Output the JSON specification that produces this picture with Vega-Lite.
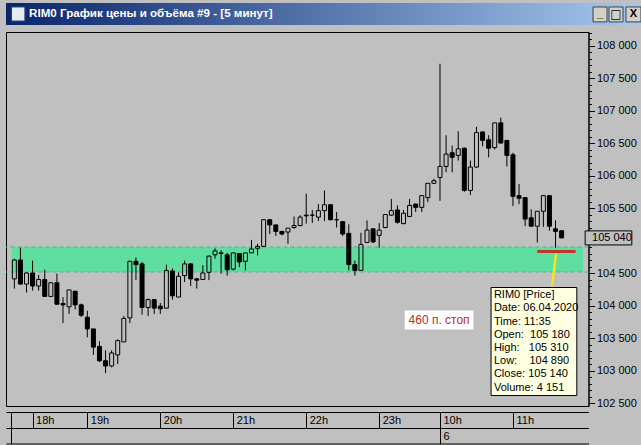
{
  "$schema": "https://vega.github.io/schema/vega-lite/v6.json",
  "background": "#C0C0C0",
  "padding": {"left": 0, "top": 3, "right": 0, "bottom": 2},
  "spacing": 6,
  "config": {"view": {"stroke": null}, "font": "Liberation Sans", "text": {"font": "Liberation Sans"}},
  "datasets": {
    "candles": [
      {"time": "17:45", "i": 0, "open": 104410, "high": 104720, "low": 104260, "close": 104700},
      {"time": "17:50", "i": 1, "open": 104700, "high": 104890, "low": 104320, "close": 104330},
      {"time": "17:55", "i": 2, "open": 104330, "high": 104510, "low": 104200, "close": 104500},
      {"time": "18:00", "i": 3, "open": 104500, "high": 104690, "low": 104230, "close": 104300},
      {"time": "18:05", "i": 4, "open": 104300, "high": 104470, "low": 104230, "close": 104400},
      {"time": "18:10", "i": 5, "open": 104400, "high": 104550, "low": 104140, "close": 104140},
      {"time": "18:15", "i": 6, "open": 104140, "high": 104360, "low": 104130, "close": 104350},
      {"time": "18:20", "i": 7, "open": 104350, "high": 104490, "low": 104010, "close": 104020},
      {"time": "18:25", "i": 8, "open": 104030, "high": 104130, "low": 103730, "close": 104010},
      {"time": "18:30", "i": 9, "open": 103980, "high": 104240, "low": 103870, "close": 104240},
      {"time": "18:35", "i": 10, "open": 104220, "high": 104220, "low": 103940, "close": 104010},
      {"time": "18:40", "i": 11, "open": 104010, "high": 104030, "low": 103820, "close": 103850},
      {"time": "19:00", "i": 12, "open": 103820, "high": 103920, "low": 103510, "close": 103640},
      {"time": "19:05", "i": 13, "open": 103640, "high": 103640, "low": 103240, "close": 103360},
      {"time": "19:10", "i": 14, "open": 103370, "high": 103450, "low": 103130, "close": 103150},
      {"time": "19:15", "i": 15, "open": 103150, "high": 103310, "low": 102960, "close": 103070},
      {"time": "19:20", "i": 16, "open": 103070, "high": 103310, "low": 103050, "close": 103270},
      {"time": "19:25", "i": 17, "open": 103240, "high": 103480, "low": 103100, "close": 103460},
      {"time": "19:30", "i": 18, "open": 103440, "high": 103840, "low": 103440, "close": 103800},
      {"time": "19:35", "i": 19, "open": 103810, "high": 104690, "low": 103730, "close": 104680},
      {"time": "19:40", "i": 20, "open": 104680, "high": 104740, "low": 104390, "close": 104630},
      {"time": "19:45", "i": 21, "open": 104640, "high": 104670, "low": 103860, "close": 103970},
      {"time": "19:50", "i": 22, "open": 103970, "high": 104110, "low": 103840, "close": 104090},
      {"time": "19:55", "i": 23, "open": 104090, "high": 104090, "low": 103870, "close": 103960},
      {"time": "20:00", "i": 24, "open": 103990, "high": 104040, "low": 103870, "close": 103950},
      {"time": "20:05", "i": 25, "open": 103960, "high": 104630, "low": 103960, "close": 104540},
      {"time": "20:10", "i": 26, "open": 104530, "high": 104570, "low": 104090, "close": 104150},
      {"time": "20:15", "i": 27, "open": 104130, "high": 104510, "low": 104130, "close": 104450},
      {"time": "20:20", "i": 28, "open": 104460, "high": 104690, "low": 104360, "close": 104640},
      {"time": "20:25", "i": 29, "open": 104640, "high": 104650, "low": 104300, "close": 104410},
      {"time": "20:30", "i": 30, "open": 104410, "high": 104420, "low": 104260, "close": 104390},
      {"time": "20:35", "i": 31, "open": 104400, "high": 104620, "low": 104400, "close": 104500},
      {"time": "20:40", "i": 32, "open": 104510, "high": 104770, "low": 104390, "close": 104760},
      {"time": "20:45", "i": 33, "open": 104780, "high": 104880, "low": 104720, "close": 104840},
      {"time": "20:50", "i": 34, "open": 104810, "high": 104850, "low": 104490, "close": 104800},
      {"time": "20:55", "i": 35, "open": 104780, "high": 104810, "low": 104460, "close": 104550},
      {"time": "21:00", "i": 36, "open": 104560, "high": 104820, "low": 104540, "close": 104810},
      {"time": "21:05", "i": 37, "open": 104800, "high": 104800, "low": 104590, "close": 104670},
      {"time": "21:10", "i": 38, "open": 104680, "high": 104810, "low": 104540, "close": 104810},
      {"time": "21:15", "i": 39, "open": 104810, "high": 105010, "low": 104810, "close": 104870},
      {"time": "21:20", "i": 40, "open": 104880, "high": 104950, "low": 104770, "close": 104910},
      {"time": "21:25", "i": 41, "open": 104910, "high": 105320, "low": 104900, "close": 105320},
      {"time": "21:30", "i": 42, "open": 105320, "high": 105320, "low": 105100, "close": 105240},
      {"time": "21:35", "i": 43, "open": 105240, "high": 105240, "low": 105070, "close": 105140},
      {"time": "21:40", "i": 44, "open": 105140, "high": 105140, "low": 105080, "close": 105100},
      {"time": "21:45", "i": 45, "open": 105130, "high": 105190, "low": 104950, "close": 105190},
      {"time": "21:50", "i": 46, "open": 105200, "high": 105370, "low": 105180, "close": 105230},
      {"time": "21:55", "i": 47, "open": 105230, "high": 105390, "low": 105220, "close": 105360},
      {"time": "22:00", "i": 48, "open": 105390, "high": 105720, "low": 105260, "close": 105380},
      {"time": "22:05", "i": 49, "open": 105390, "high": 105470, "low": 105270, "close": 105390},
      {"time": "22:10", "i": 50, "open": 105360, "high": 105560, "low": 105300, "close": 105460},
      {"time": "22:15", "i": 51, "open": 105460, "high": 105770, "low": 105300, "close": 105550},
      {"time": "22:20", "i": 52, "open": 105550, "high": 105560, "low": 105310, "close": 105320},
      {"time": "22:25", "i": 53, "open": 105320, "high": 105440, "low": 105200, "close": 105320},
      {"time": "22:30", "i": 54, "open": 105290, "high": 105300, "low": 105070, "close": 105100},
      {"time": "22:35", "i": 55, "open": 105110, "high": 105250, "low": 104540, "close": 104630},
      {"time": "22:40", "i": 56, "open": 104630, "high": 104690, "low": 104460, "close": 104540},
      {"time": "22:45", "i": 57, "open": 104540, "high": 105120, "low": 104540, "close": 104940},
      {"time": "22:50", "i": 58, "open": 104970, "high": 105310, "low": 104970, "close": 105160},
      {"time": "22:55", "i": 59, "open": 105180, "high": 105180, "low": 104960, "close": 104980},
      {"time": "23:00", "i": 60, "open": 105080, "high": 105270, "low": 104890, "close": 105160},
      {"time": "23:05", "i": 61, "open": 105200, "high": 105400, "low": 105190, "close": 105400},
      {"time": "23:10", "i": 62, "open": 105390, "high": 105640, "low": 105380, "close": 105460},
      {"time": "23:15", "i": 63, "open": 105470, "high": 105540, "low": 105260, "close": 105280},
      {"time": "23:20", "i": 64, "open": 105260, "high": 105470, "low": 105250, "close": 105420},
      {"time": "23:25", "i": 65, "open": 105370, "high": 105640, "low": 105370, "close": 105540},
      {"time": "23:30", "i": 66, "open": 105560, "high": 105570, "low": 105440, "close": 105510},
      {"time": "23:35", "i": 67, "open": 105510, "high": 105690, "low": 105440, "close": 105690},
      {"time": "23:40", "i": 68, "open": 105660, "high": 105880, "low": 105590, "close": 105880},
      {"time": "23:45", "i": 69, "open": 105880, "high": 105950, "low": 105870, "close": 105920},
      {"time": "10:00", "i": 70, "open": 105970, "high": 107720, "low": 105610, "close": 106140},
      {"time": "10:05", "i": 71, "open": 106140, "high": 106620, "low": 106050, "close": 106330},
      {"time": "10:10", "i": 72, "open": 106350, "high": 106460, "low": 106050, "close": 106280},
      {"time": "10:15", "i": 73, "open": 106310, "high": 106680, "low": 106230, "close": 106410},
      {"time": "10:20", "i": 74, "open": 106420, "high": 106430, "low": 105750, "close": 105770},
      {"time": "10:25", "i": 75, "open": 105770, "high": 106230, "low": 105700, "close": 106130},
      {"time": "10:30", "i": 76, "open": 106130, "high": 106750, "low": 106120, "close": 106660},
      {"time": "10:35", "i": 77, "open": 106670, "high": 106680, "low": 106450, "close": 106540},
      {"time": "10:40", "i": 78, "open": 106550, "high": 106620, "low": 106280, "close": 106420},
      {"time": "10:45", "i": 79, "open": 106430, "high": 106810, "low": 106400, "close": 106810},
      {"time": "10:50", "i": 80, "open": 106810, "high": 106890, "low": 106490, "close": 106500},
      {"time": "10:55", "i": 81, "open": 106540, "high": 106540, "low": 106140, "close": 106310},
      {"time": "11:00", "i": 82, "open": 106320, "high": 106350, "low": 105530, "close": 105680},
      {"time": "11:05", "i": 83, "open": 105690, "high": 105870, "low": 105560, "close": 105650},
      {"time": "11:10", "i": 84, "open": 105660, "high": 105660, "low": 105220, "close": 105330},
      {"time": "11:15", "i": 85, "open": 105350, "high": 105480, "low": 105220, "close": 105220},
      {"time": "11:20", "i": 86, "open": 105220, "high": 105450, "low": 104970, "close": 105450},
      {"time": "11:25", "i": 87, "open": 105450, "high": 105700, "low": 105210, "close": 105690},
      {"time": "11:30", "i": 88, "open": 105690, "high": 105690, "low": 105150, "close": 105220},
      {"time": "11:35", "i": 89, "open": 105180, "high": 105310, "low": 104890, "close": 105140},
      {"time": "11:40", "i": 90, "open": 105150, "high": 105150, "low": 105040, "close": 105040}
    ]
  },
  "vconcat": [
    {
      "width": 641,
      "height": 22,
      "view": {"stroke": null},
      "data": {"values": [{"title": "RIM0 График цены и объёма #9 - [5 минут]"}]},
      "layer": [
        {
          "mark": {"type": "rect", "stroke": null, "fill": {"gradient": "linear", "x1": 0, "y1": 0, "x2": 1, "y2": 0, "stops": [{"offset": 0, "color": "#0A246A"}, {"offset": 1, "color": "#A6CAF0"}]}},
          "encoding": {
            "x": {"datum": 0, "type": "quantitative", "scale": {"domain": [0, 1], "nice": false, "zero": false}, "axis": null},
            "x2": {"datum": 1},
            "y": {"datum": 0, "type": "quantitative", "scale": {"domain": [0, 1], "nice": false, "zero": false}, "axis": null},
            "y2": {"datum": 1}
          }
        },
        {
          "mark": {"type": "rect", "fill": "#E4ECF4", "stroke": "#2A3A7A", "strokeWidth": 1},
          "encoding": {
            "x": {"datum": 0.0085, "type": "quantitative"}, "x2": {"datum": 0.0295},
            "y": {"datum": 0.18, "type": "quantitative"}, "y2": {"datum": 0.82}
          }
        },
        {
          "mark": {"type": "text", "align": "left", "baseline": "middle", "fill": "white", "fontWeight": "bold", "fontSize": 11.6, "font": "Liberation Sans"},
          "encoding": {
            "x": {"datum": 0.036, "type": "quantitative"},
            "y": {"datum": 0.48, "type": "quantitative"},
            "text": {"field": "title"}
          }
        },
        {
          "mark": {"type": "rect", "fill": "#D4D0C8", "stroke": "#404040", "strokeWidth": 1},
          "encoding": {"x": {"datum": 0.9158, "type": "quantitative"}, "x2": {"datum": 0.9376}, "y": {"datum": 0.14, "type": "quantitative"}, "y2": {"datum": 0.82}}
        },
        {
          "mark": {"type": "rect", "fill": "#D4D0C8", "stroke": "#404040", "strokeWidth": 1},
          "encoding": {"x": {"datum": 0.9407, "type": "quantitative"}, "x2": {"datum": 0.9626}, "y": {"datum": 0.14, "type": "quantitative"}, "y2": {"datum": 0.82}}
        },
        {
          "mark": {"type": "rect", "fill": "#D4D0C8", "stroke": "#404040", "strokeWidth": 1},
          "encoding": {"x": {"datum": 0.9672, "type": "quantitative"}, "x2": {"datum": 0.9906}, "y": {"datum": 0.14, "type": "quantitative"}, "y2": {"datum": 0.82}}
        },
        {
          "data": {"values": [{"glyph": "_"}]},
          "mark": {"type": "text", "align": "center", "baseline": "middle", "fill": "black", "fontWeight": "bold", "fontSize": 11},
          "encoding": {"x": {"datum": 0.9267, "type": "quantitative"}, "y": {"datum": 0.5, "type": "quantitative"}, "text": {"field": "glyph"}}
        },
        {
          "data": {"values": [{"glyph": "□"}]},
          "mark": {"type": "text", "align": "center", "baseline": "middle", "fill": "black", "fontWeight": "bold", "fontSize": 12, "font": "DejaVu Sans"},
          "encoding": {"x": {"datum": 0.9516, "type": "quantitative"}, "y": {"datum": 0.48, "type": "quantitative"}, "text": {"field": "glyph"}}
        },
        {
          "data": {"values": [{"glyph": "X"}]},
          "mark": {"type": "text", "align": "center", "baseline": "middle", "fill": "black", "fontWeight": "bold", "fontSize": 11},
          "encoding": {"x": {"datum": 0.9789, "type": "quantitative"}, "y": {"datum": 0.48, "type": "quantitative"}, "text": {"field": "glyph"}}
        }
      ]
    },
    {
      "width": 582.5,
      "height": 374,
      "view": {"stroke": "black", "strokeWidth": 1},
      "resolve": {"axis": {"x": "independent", "y": "independent"}},
      "layer": [
        {
          "data": {"values": [{"from": 104515, "to": 104900}]},
          "mark": {"type": "rect", "fill": "#5EDFA0", "stroke": null},
          "encoding": {
            "x": {"datum": -0.47, "type": "quantitative", "scale": {"domain": [-0.55, 93.6], "nice": false, "zero": false}, "axis": null},
            "x2": {"datum": 93.52},
            "y": {"field": "to", "type": "quantitative", "scale": {"domain": [102454, 108208], "nice": false, "zero": false}, "axis": null},
            "y2": {"field": "from"}
          }
        },
        {
          "data": {"values": [{"level": 104515}, {"level": 104900}]},
          "mark": {"type": "rule", "stroke": "#3DBE80", "strokeDash": [4, 3], "strokeWidth": 1},
          "encoding": {
            "y": {"field": "level", "type": "quantitative", "scale": {"domain": [102454, 108208], "nice": false, "zero": false}, "axis": null}
          }
        },
        {
          "data": {"name": "candles"},
          "transform": [{"filter": "datum.close < datum.open"}],
          "mark": {"type": "rule", "stroke": "black", "strokeWidth": 1},
          "encoding": {
            "x": {"field": "i", "type": "quantitative", "scale": {"domain": [-0.55, 93.6], "nice": false, "zero": false},
              "axis": {"orient": "bottom", "offset": 6, "values": [-0.55, 3, 12, 24, 36, 48, 60, 70, 82], "tickSize": 16, "tickColor": "black", "tickWidth": 1, "domain": true, "domainColor": "black", "domainWidth": 1, "grid": false, "title": null,
                "labelExpr": "datum.value == 3 ? '18h' : datum.value == 12 ? '19h' : datum.value == 24 ? '20h' : datum.value == 36 ? '21h' : datum.value == 48 ? '22h' : datum.value == 60 ? '23h' : datum.value == 70 ? '10h' : datum.value == 82 ? '11h' : ''",
                "labelAlign": "left", "labelBaseline": "middle", "labelPadding": -8, "labelOffset": 3, "labelFont": "Liberation Sans", "labelFontSize": 11, "labelColor": "black", "labelFlush": false, "labelOverlap": false, "labelBound": false}},
            "y": {"field": "low", "type": "quantitative", "scale": {"domain": [102454, 108208], "nice": false, "zero": false},
              "axis": {"orient": "right", "values": [102500, 103000, 103500, 104000, 104500, 105000, 105500, 106000, 106500, 107000, 107500, 108000], "labelExpr": "datum.value == 105000 ? '' : replace(format(datum.value, ',d'), ',', ' ')", "tickSize": 6, "tickColor": "black", "domain": true, "domainColor": "black", "grid": false, "title": null, "labelPadding": 2, "labelBaseline": "middle", "labelFont": "Liberation Sans", "labelFontSize": 11, "labelColor": "black", "labelFlush": false, "labelOverlap": false}},
            "y2": {"field": "high"}
          }
        },
        {
          "data": {"name": "candles"},
          "transform": [{"filter": "datum.close >= datum.open"}],
          "mark": {"type": "rule", "stroke": "black", "strokeWidth": 1},
          "encoding": {
            "x": {"field": "i", "type": "quantitative", "scale": {"domain": [-0.55, 93.6], "nice": false, "zero": false},
              "axis": {"orient": "bottom", "offset": 22, "values": [-0.55, 70], "tickSize": 15.5, "tickColor": "black", "domain": true, "domainColor": "black", "grid": false, "title": null,
                "labelExpr": "datum.value == 70 ? '6' : ''", "labelAlign": "left", "labelBaseline": "middle", "labelPadding": -7.5, "labelOffset": 3, "labelFont": "Liberation Sans", "labelFontSize": 11, "labelColor": "black", "labelFlush": false, "labelOverlap": false, "labelBound": false}},
            "y": {"field": "close", "type": "quantitative", "scale": {"domain": [102454, 108208], "nice": false, "zero": false},
              "axis": {"orient": "right", "values": [102500, 102600, 102700, 102800, 102900, 103100, 103200, 103300, 103400, 103600, 103700, 103800, 103900, 104100, 104200, 104300, 104400, 104600, 104700, 104800, 104900, 105100, 105200, 105300, 105400, 105600, 105700, 105800, 105900, 106100, 106200, 106300, 106400, 106600, 106700, 106800, 106900, 107100, 107200, 107300, 107400, 107600, 107700, 107800, 107900, 108100, 108200], "labels": false, "domain": false, "tickSize": 3, "tickColor": "black", "grid": false, "title": null}},
            "y2": {"field": "high"}
          }
        },
        {
          "data": {"name": "candles"},
          "transform": [{"filter": "datum.close >= datum.open"}],
          "mark": {"type": "rule", "stroke": "black", "strokeWidth": 1},
          "encoding": {
            "x": {"field": "i", "type": "quantitative", "scale": {"domain": [-0.55, 93.6], "nice": false, "zero": false},
              "axis": {"orient": "bottom", "offset": 37.5, "ticks": false, "labels": false, "domain": true, "domainColor": "black", "grid": false, "title": null}},
            "y": {"field": "low", "type": "quantitative", "scale": {"domain": [102454, 108208], "nice": false, "zero": false},
              "axis": {"orient": "left", "offset": 5, "ticks": false, "labels": false, "domain": true, "domainColor": "#C0C0C0", "grid": false, "title": null}},
            "y2": {"field": "open"}
          }
        },
        {
          "data": {"name": "candles"},
          "mark": {"type": "bar", "width": 4, "stroke": "black", "strokeWidth": 1},
          "encoding": {
            "x": {"field": "i", "type": "quantitative", "scale": {"domain": [-0.55, 93.6], "nice": false, "zero": false}, "axis": null},
            "y": {"field": "open", "type": "quantitative", "scale": {"domain": [102454, 108208], "nice": false, "zero": false}, "axis": null},
            "y2": {"field": "close"},
            "fill": {"condition": {"test": "datum.close < datum.open", "value": "black"}, "value": "transparent"}
          }
        },
        {
          "data": {"values": [{"stop": 104831}]},
          "mark": {"type": "rule", "stroke": "#C4322C", "strokeWidth": 3},
          "encoding": {
            "x": {"datum": 86.0, "type": "quantitative", "scale": {"domain": [-0.55, 93.6], "nice": false, "zero": false}, "axis": null},
            "x2": {"datum": 92.3},
            "y": {"field": "stop", "type": "quantitative", "scale": {"domain": [102454, 108208], "nice": false, "zero": false}, "axis": null}
          }
        },
        {
          "data": {"values": [{"pointer": "11:35"}]},
          "mark": {"type": "rule", "stroke": "#F2E61C", "strokeWidth": 2.5},
          "encoding": {
            "x": {"datum": 89.1, "type": "quantitative", "scale": {"domain": [-0.55, 93.6], "nice": false, "zero": false}, "axis": null},
            "x2": {"datum": 88.4},
            "y": {"datum": 104800, "type": "quantitative", "scale": {"domain": [102454, 108208], "nice": false, "zero": false}, "axis": null},
            "y2": {"datum": 104290}
          }
        },
        {
          "data": {"values": [{"box": "tooltip"}]},
          "mark": {"type": "rect", "fill": "#FFFFE1", "stroke": "black", "strokeWidth": 1},
          "encoding": {
            "x": {"datum": 78.4, "type": "quantitative", "scale": {"domain": [-0.55, 93.6], "nice": false, "zero": false}, "axis": null},
            "x2": {"datum": 92.5},
            "y": {"datum": 104277, "type": "quantitative", "scale": {"domain": [102454, 108208], "nice": false, "zero": false}, "axis": null},
            "y2": {"datum": 102615}
          }
        },
        {
          "data": {"values": [{"lines": ["RIM0 [Price]", "Date: 06.04.2020", "Time: 11:35", "Open:\u00a0 105 180", "High:\u00a0\u00a0 105 310", "Low:\u00a0\u00a0\u00a0 104 890", "Close: 105 140", "Volume: 4 151"]}]},
          "mark": {"type": "text", "align": "left", "baseline": "top", "fill": "black", "fontSize": 11, "lineHeight": 13.2, "font": "Liberation Sans"},
          "encoding": {
            "x": {"datum": 78.87, "type": "quantitative", "scale": {"domain": [-0.55, 93.6], "nice": false, "zero": false}, "axis": null},
            "y": {"datum": 104252, "type": "quantitative", "scale": {"domain": [102454, 108208], "nice": false, "zero": false}, "axis": null},
            "text": {"field": "lines"}
          }
        },
        {
          "data": {"values": [{"label": "460 п. стоп"}]},
          "mark": {"type": "rect", "fill": "white", "stroke": null},
          "encoding": {
            "x": {"datum": 64.2, "type": "quantitative", "scale": {"domain": [-0.55, 93.6], "nice": false, "zero": false}, "axis": null},
            "x2": {"datum": 75.5},
            "y": {"datum": 103923, "type": "quantitative", "scale": {"domain": [102454, 108208], "nice": false, "zero": false}, "axis": null},
            "y2": {"datum": 103631}
          }
        },
        {
          "data": {"values": [{"label": "460 п. стоп"}]},
          "mark": {"type": "text", "align": "center", "baseline": "middle", "fill": "#C0282C", "fontSize": 12, "font": "Liberation Sans"},
          "encoding": {
            "x": {"datum": 69.85, "type": "quantitative", "scale": {"domain": [-0.55, 93.6], "nice": false, "zero": false}, "axis": null},
            "y": {"datum": 103777, "type": "quantitative", "scale": {"domain": [102454, 108208], "nice": false, "zero": false}, "axis": null},
            "text": {"field": "label"}
          }
        },
        {
          "data": {"values": [{"price": 105040, "label": "105 040"}]},
          "mark": {"type": "rect", "fill": "#C0C0C0", "stroke": "black", "strokeWidth": 1},
          "encoding": {
            "x": {"datum": 93.87, "type": "quantitative", "scale": {"domain": [-0.55, 93.6], "nice": false, "zero": false}, "axis": null},
            "x2": {"datum": 101.55},
            "y": {"datum": 105148, "type": "quantitative", "scale": {"domain": [102454, 108208], "nice": false, "zero": false}, "axis": null},
            "y2": {"datum": 104932}
          }
        },
        {
          "data": {"values": [{"price": 105040, "label": "105 040"}]},
          "mark": {"type": "text", "align": "left", "baseline": "middle", "fill": "black", "fontSize": 11, "font": "Liberation Sans"},
          "encoding": {
            "x": {"datum": 95.0, "type": "quantitative", "scale": {"domain": [-0.55, 93.6], "nice": false, "zero": false}, "axis": null},
            "y": {"field": "price", "type": "quantitative", "scale": {"domain": [102454, 108208], "nice": false, "zero": false}, "axis": null},
            "text": {"field": "label"}
          }
        }
      ]
    }
  ]
}
